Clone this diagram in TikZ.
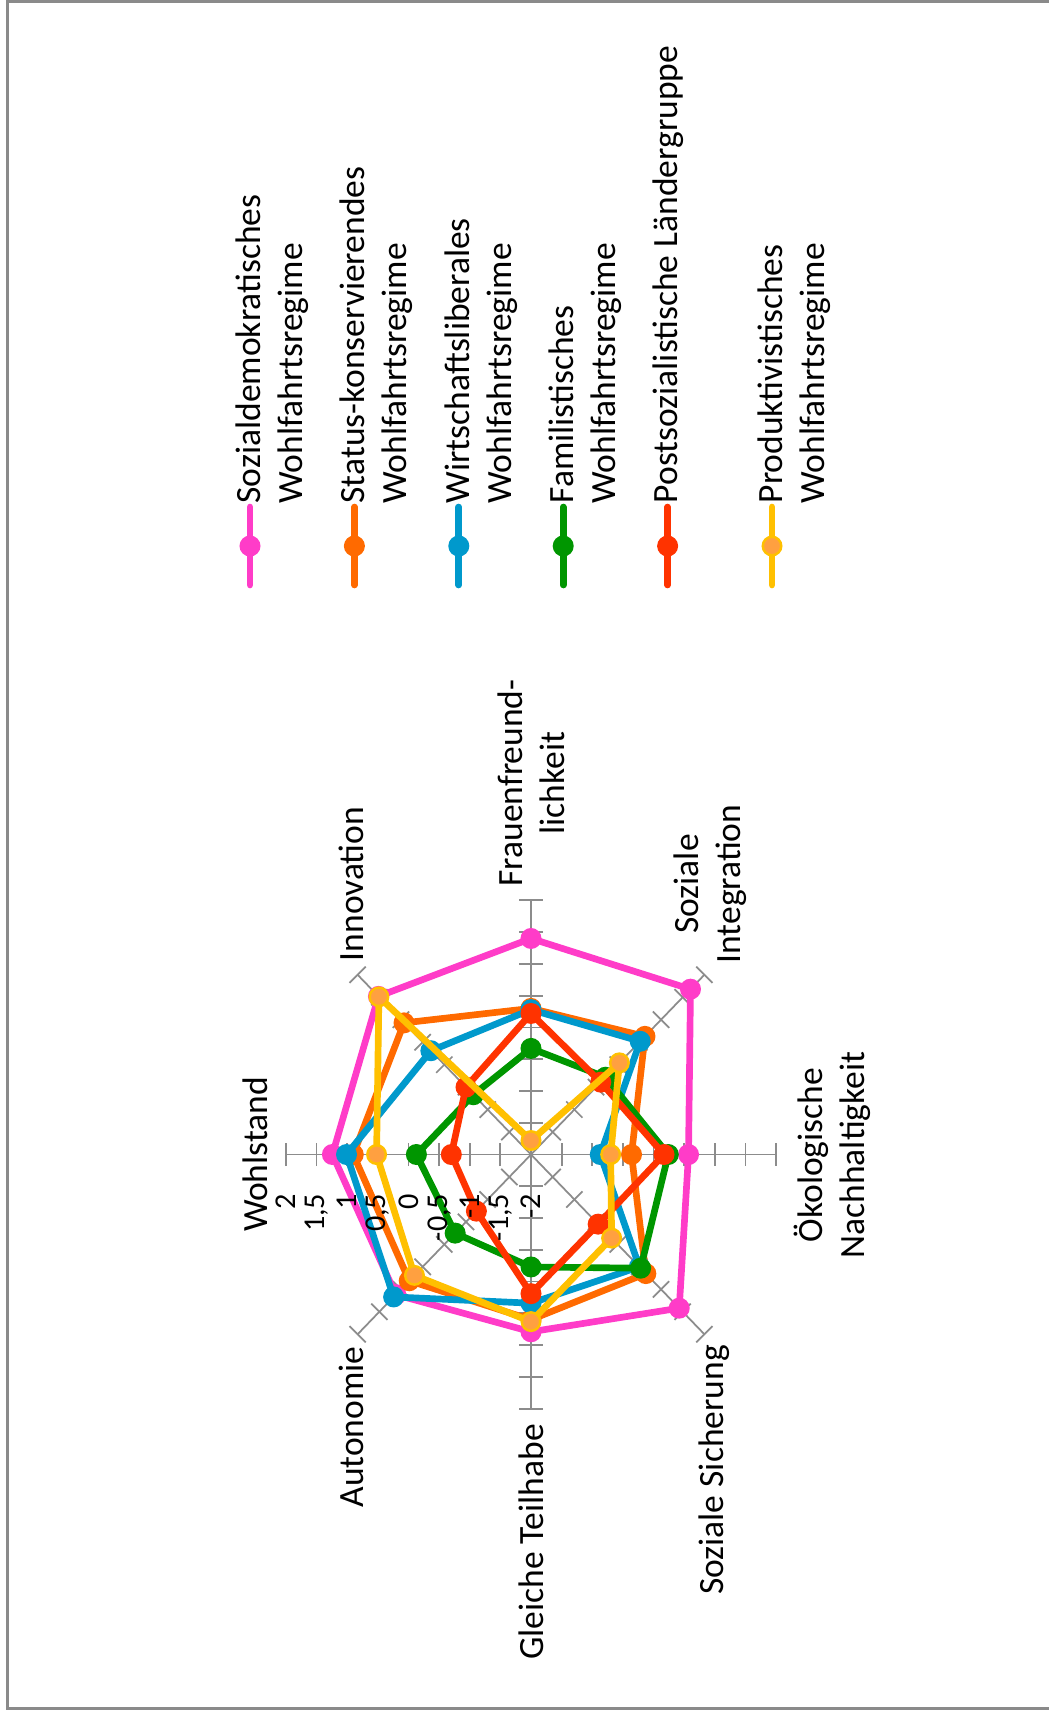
\documentclass[tikz,border=0pt]{standalone}
\usepackage{fontspec}
\setmainfont{Carlito}
\usepackage{tikz}
\usetikzlibrary{calc}
\definecolor{AxisGray}{HTML}{8C8C8C}
\definecolor{FrameGray}{HTML}{8A8A8A}
\definecolor{SDpink}{HTML}{FF3CC8}
\definecolor{SKorange}{HTML}{FF6A00}
\definecolor{WLblue}{HTML}{0099CC}
\definecolor{FAgreen}{HTML}{009600}
\definecolor{PSred}{HTML}{FF3300}
\definecolor{PRyellow}{HTML}{FFC000}
\definecolor{PRorange}{HTML}{FFA040}
\tikzstyle{Spoke}=[draw=AxisGray, line width=0.5pt]
\tikzstyle{Dot}=[circle, inner sep=0pt, minimum size=0.185cm, line width=0.7pt]
\tikzstyle{Label}=[rotate=90, align=center, font=\fontsize{10.1}{11.95}\selectfont]
\tikzstyle{TickLabel}=[rotate=90, anchor=east, inner sep=0pt, font=\fontsize{8.6}{10}\selectfont]
\tikzstyle{Entry}=[rotate=90, anchor=north west, inner sep=0pt, align=left, font=\fontsize{10.1}{11.95}\selectfont]
\tikzset{Series/.style={draw=#1, line width=1.9pt, line join=round}}

\begin{document}
\begin{tikzpicture}[x=0.01cm, y=-0.01cm]
    \useasboundingbox (0,0) rectangle (1049,1712);
    \draw[FrameGray, line width=1pt] (1049,1.5) -| (7.5,1708.5) -- (1049,1708.5);

    \begin{scope}[shift={(531,1154.5)}, x=0.6125cm, y=0.635cm]
    \foreach \a in {0,45,...,315} {
        \draw[Spoke] (0,0) -- (\a:4);
        \foreach \r in {0.5,1,...,4}
            \draw[Spoke] ($(\a:\r)+(\a+90:0.115cm)$) -- ($(\a:\r)+(\a-90:0.115cm)$);
    }
    \foreach \s/\c/\f/\vals in {
        sd/SDpink/SDpink/{1.24,1.52,1.4,1.68,0.57,1.42,0.79,1.12},
        sk/SKorange/SKorange/{0.9,0.93,0.3,0.63,-0.36,0.65,0.6,0.81},
        wl/WLblue/WLblue/{1.01,0.31,0.28,0.52,-0.87,0.5,0.34,1.17},
        fa/FAgreen/FAgreen/{-0.13,-0.67,-0.33,-0.28,0.24,0.53,-0.23,-0.25},
        ps/PSred/PSred/{-0.7,-0.5,0.22,-0.39,0.17,-0.45,0.19,-0.74},
        pr/PRyellow/PRorange/{0.52,1.51,-1.78,0.04,-0.7,-0.14,0.63,0.69}} {
        \foreach \v [count=\i] in \vals
            \coordinate (\s\i) at ({225-45*\i}:{\v+2});
        \draw[Series=\c] (\s1) -- (\s2) -- (\s3) -- (\s4) -- (\s5) -- (\s6) -- (\s7) -- (\s8) -- cycle;
        \foreach \i in {1,...,8}
            \node[Dot, draw=\c, fill=\f] (\s-dot\i) at (\s\i) {};
    }
    \end{scope}

    \foreach \t [count=\k from 0] in {-2,{-1,5},-1,{-0,5},0,{0,5},1,{1,5},2}
        \node[TickLabel] (tick\k) at ({531-30.625*\k},1193) {\t};

    \path (255,1154.5) node[Label] (wohlstand) {Wohlstand}
    (351,884) node[Label] (innovation) {Innovation}
    (531,783) node[Label] (frauen) {Frauenfreund-\\lichkeit}
    (710.6,884) node[Label] (integration) {Soziale\\Integration}
    (832,1155) node[Label] (oekologie) {Ökologische\\Nachhaltigkeit}
    (714,1470) node[Label] (sicherung) {Soziale Sicherung}
    (531,1542) node[Label] (teilhabe) {Gleiche Teilhabe}
    (351,1427) node[Label] (autonomie) {Autonomie};

    \foreach \c/\f/\x/\txt [count=\n] in {
        SDpink/SDpink/250/{Sozialdemokratisches\\Wohlfahrtsregime},
        SKorange/SKorange/354.4/{Status-konservierendes\\Wohlfahrtsregime},
        WLblue/WLblue/458.8/{Wirtschaftsliberales\\Wohlfahrtsregime},
        FAgreen/FAgreen/563.2/{Familistisches\\Wohlfahrtsregime},
        PSred/PSred/667.6/{Postsozialistische Ländergruppe},
        PRyellow/PRorange/772/{Produktivistisches\\Wohlfahrtsregime}} {
        \coordinate (key\n) at (\x,546);
        \draw[Series=\c, line cap=round] ($(key\n)+(0,-39)$) -- ($(key\n)+(0,39)$);
        \node[Dot, draw=\c, fill=\f] (keydot\n) at (key\n) {};
        \node[Entry] (entry\n) at ($(key\n)+(-15,-42)$) {\txt};
    }
\end{tikzpicture}
\end{document}
